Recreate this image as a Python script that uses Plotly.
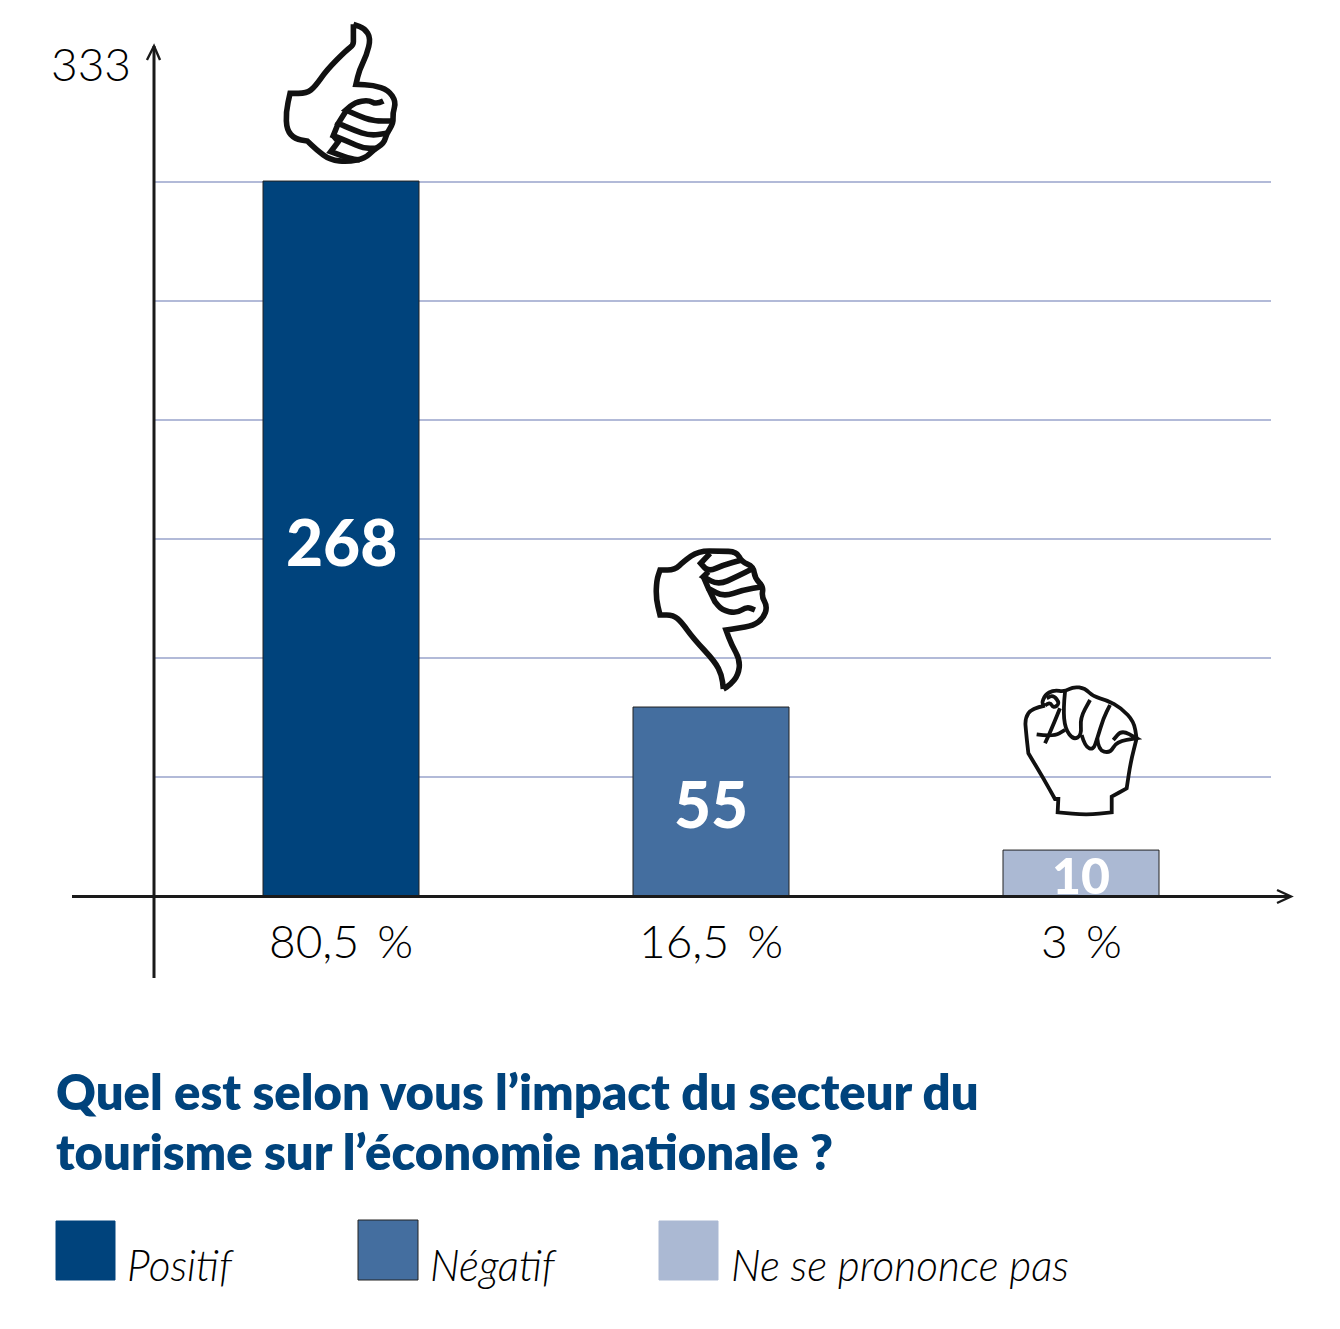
import plotly.graph_objects as go

# ---- data
categories = ["Positif", "Négatif", "Ne se prononce pas"]
value_labels = ["268", "55", "10"]
percent_labels = ["80,5\u2009 %", "16,5\u2009 %", "3\u2009 %"]
# bar heights as drawn, in units of the gridline scale (one grid step = 50)
bar_heights = [300.4, 79.4, 19.3]
title_lines = ["Quel est selon vous l’impact du secteur du",
               "tourisme sur l’économie nationale ?"]
axis_top_label = "333"

W, H = 1340, 1329
L, R, T, B = 154, 1271, 170, 896
colors = ["#00437C", "#446E9F", "#ABB9D3"]
GRID = "#B2BAD8"
INK = "#1A1A1A"
SANS = "Lato, 'Open Sans', sans-serif"


def px(x, y):
    """Figure pixel to paper coordinates."""
    return (x - L) / (R - L), (B - y) / (B - T)


def line(x0, y0, x1, y1, width=3):
    a, b = px(x0, y0)
    c, d = px(x1, y1)
    return dict(type="line", xref="paper", yref="paper", x0=a, y0=b, x1=c, y1=d,
                line=dict(color=INK, width=width), layer="above")


def polyline(points, width):
    s = "M " + " L ".join("%.4f,%.4f" % px(*p) for p in points)
    return dict(type="path", xref="paper", yref="paper", path=s,
                line=dict(color=INK, width=width), layer="above")


def smooth(points, ox, oy, width, scale=1 / 3):
    """Pictogram stroke from zoom-space outline points, rounded through midpoints."""
    pts = [(ox + x * scale, oy + y * scale) for x, y in points]
    a = px(*pts[0])
    s = "M %.4f,%.4f" % a
    for i in range(1, len(pts) - 1):
        c = px(*pts[i])
        m = px((pts[i][0] + pts[i + 1][0]) / 2, (pts[i][1] + pts[i + 1][1]) / 2)
        s += " Q %.4f,%.4f %.4f,%.4f" % (c + m)
    e = px(*pts[-1])
    s += " L %.4f,%.4f" % e
    return dict(type="path", xref="paper", yref="paper", path=s,
                line=dict(color="#111111", width=width), layer="above")


# repeated points keep a corner sharp
thumb_up = [
    [(250, 28), (250, 28), (285, 40), (302, 70), (290, 120), (268, 165), (258, 208), (258, 208), (310, 210),
     (355, 225), (378, 260), (368, 295), (370, 325), (350, 355), (342, 385), (310, 405), (285, 430), (235, 440),
     (180, 435), (140, 405), (112, 378), (112, 378), (75, 372), (50, 345), (48, 290), (60, 235), (60, 235),
     (110, 235), (135, 215), (170, 165), (230, 105), (250, 90), (250, 70), (250, 28)],
    [(340, 258), (320, 268), (295, 255), (255, 262), (228, 285), (228, 285), (260, 300), (310, 318), (370, 318)],
    [(228, 288), (205, 325), (205, 325), (250, 345), (300, 362), (350, 355)],
    [(205, 325), (190, 362), (190, 362), (235, 380), (280, 400), (320, 400)],
    [(190, 362), (205, 380), (205, 380), (182, 410), (182, 410), (235, 430), (270, 435)],
]
thumb_down = [
    [(250, 462), (250, 462), (245, 420), (225, 380), (160, 310), (125, 262), (100, 240), (60, 240), (60, 240),
     (48, 190), (50, 135), (60, 105), (60, 105), (105, 105), (130, 80), (175, 48), (240, 48), (290, 50), (305, 80),
     (340, 95), (345, 130), (370, 155), (365, 185), (382, 215), (370, 250), (340, 272), (290, 280), (258, 285),
     (258, 285), (275, 330), (300, 375), (295, 420), (270, 450), (250, 462)],
    [(210, 55), (182, 85), (182, 85), (205, 110), (250, 90), (305, 75)],
    [(205, 110), (190, 125), (190, 125), (235, 150), (290, 125), (340, 100)],
    [(190, 125), (205, 160), (205, 160), (250, 185), (310, 165), (368, 155)],
    [(205, 160), (225, 200), (225, 200), (245, 225), (290, 235), (320, 215), (345, 225)],
]
fist = [
    [(105, 92), (65, 100), (45, 130), (48, 170), (55, 235), (55, 235), (100, 310), (135, 372), (135, 372),
     (145, 372), (145, 372), (143, 412), (143, 412), (230, 420), (305, 412), (305, 412), (305, 365), (305, 365),
     (350, 340), (350, 340), (362, 260), (380, 190), (380, 190), (372, 140), (335, 100), (290, 75), (250, 65),
     (225, 40), (190, 35), (165, 50), (130, 45), (105, 60), (95, 85), (105, 92)],
    [(165, 50), (160, 100), (165, 160), (190, 195), (215, 180), (210, 130), (240, 75)],
    [(215, 180), (225, 215), (250, 225), (262, 190), (280, 130), (300, 90)],
    [(262, 190), (265, 225), (300, 235), (320, 200), (380, 190), (380, 190), (335, 165), (310, 195)],
    [(105, 92), (120, 80), (130, 100), (150, 85), (130, 60), (110, 70)],
    [(150, 100), (130, 150), (105, 205)],
    [(80, 178), (130, 185), (165, 165)],
]

x_pos = list(range(len(categories)))
fig = go.Figure(go.Bar(
    x=x_pos, y=bar_heights, width=156 / 370,
    marker=dict(color=colors, line=dict(color="#222222", width=1)),
    cliponaxis=False, hoverinfo="skip", showlegend=False,
))

shapes = [
    line(154, 46, 154, 978),
    line(72, 896.5, 1290, 896.5),
    polyline([(147, 60), (154, 46), (160, 60)], 2.4),
    polyline([(1277, 890), (1291, 896.5), (1277, 903)], 2.4),
]
for strokes, ox, oy, w in [(thumb_up, 270, 15, 5.6), (thumb_down, 640, 535, 5.6), (fist, 1010, 675, 3.8)]:
    shapes += [smooth(s, ox, oy, w) for s in strokes]

# legend
swatches = [(56, 115, 1221, 1280), (358, 418, 1220, 1280), (659, 718, 1221, 1280)]
legend_x = [125, 428, 729]
for i, (x0, x1, y0, y1) in enumerate(swatches):
    a, b = px(x0, y1)
    c, d = px(x1, y0)
    shapes.append(dict(type="rect", xref="paper", yref="paper", x0=a, y0=b, x1=c, y1=d,
                       fillcolor=colors[i],
                       line=dict(color="#222222" if i == 1 else colors[i], width=1)))


def text(t, x, y, size, color="#000000", anchor="center", weight=400, italic=False):
    a, b = px(x, y)
    return dict(text=t, xref="paper", yref="paper", x=a, y=b, xanchor=anchor, yanchor="middle",
                showarrow=False,
                font=dict(family=SANS, size=size, color=color, weight=weight,
                          style="italic" if italic else "normal"))


ann = [text(axis_top_label, 91, 64, 46, weight=300)]
label_y = [541, 803, 875]
label_size = [64, 64, 50]
for i in x_pos:
    ann.append(text(value_labels[i], 341 + 370 * i, label_y[i], label_size[i], "#FFFFFF", weight=900))
    ann.append(text(percent_labels[i], 341 + 370 * i, 940, 46, weight=300))
    ann.append(text(categories[i], legend_x[i], 1264, 42.4, anchor="left", italic=True, weight=300))
ann.append(text(title_lines[0], 54, 1091, 49, "#00437C", anchor="left", weight=800))
ann.append(text(title_lines[1], 54, 1151, 49, "#00437C", anchor="left", weight=800))

fig.update_layout(
    width=W, height=H, autosize=False,
    margin=dict(l=L, r=W - R, t=T, b=H - B, pad=0),
    paper_bgcolor="white", plot_bgcolor="white",
    shapes=shapes, annotations=ann,
    xaxis=dict(range=[(L - 341) / 370, (R - 341) / 370], showgrid=False, zeroline=False,
               showticklabels=False, ticks=""),
    yaxis=dict(range=[0, (B - T) / 2.38], tick0=0, dtick=50, showgrid=True, gridcolor=GRID, gridwidth=1.6,
               zeroline=False, showticklabels=False, ticks=""),
)
fig.write_html("out.html", post_script="document.body.style.margin='0';",
               config=dict(displayModeBar=False))
